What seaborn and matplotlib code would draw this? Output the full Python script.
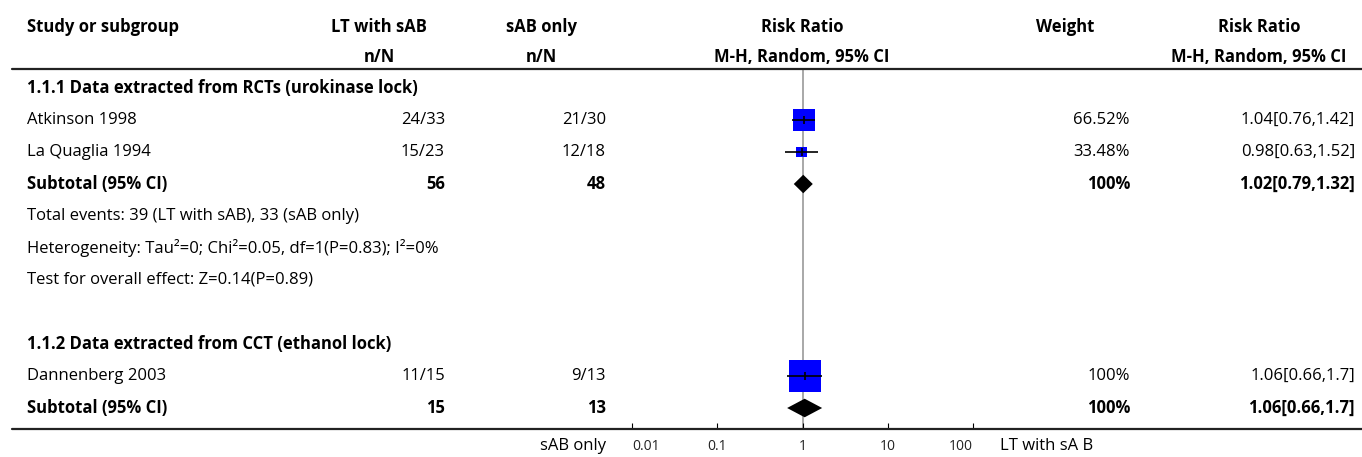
import numpy as np
import pandas as pd
import seaborn as sns
from matplotlib import pyplot as plt
from matplotlib.lines import Line2D
from matplotlib.transforms import blended_transform_factory

# Study level data
studies = ["Atkinson 1998", "La Quaglia 1994", "Dannenberg 2003"]
lt_events = [24, 15, 11]
lt_total = [33, 23, 15]
sab_events = [21, 12, 9]
sab_total = [30, 18, 13]
rr = [1.04, 0.98, 1.06]
rr_lo = [0.76, 0.63, 0.66]
rr_hi = [1.42, 1.52, 1.7]
weights = [66.52, 33.48, 100.0]
rr_text = ["1.04[0.76,1.42]", "0.98[0.63,1.52]", "1.06[0.66,1.7]"]

# Subtotals
sub_lt_total = [56, 15]
sub_sab_total = [48, 13]
sub_rr = [1.02, 1.06]
sub_lo = [0.79, 0.66]
sub_hi = [1.32, 1.7]
sub_weight = ["100%", "100%"]
sub_text = ["1.02[0.79,1.32]", "1.06[0.66,1.7]"]

groups = ["1.1.1 Data extracted from RCTs (urokinase lock)",
          "1.1.2 Data extracted from CCT (ethanol lock)"]
notes = ["Total events: 39 (LT with sAB), 33 (sAB only)",
         "Heterogeneity: Tau\u00b2=0; Chi\u00b2=0.05, df=1(P=0.83); I\u00b2=0%",
         "Test for overall effect: Z=0.14(P=0.89)"]
ticks = [0.01, 0.1, 1, 10, 100]
tick_labels = ["0.01", "0.1", "1", "10", "100"]

# row layout (row units)
study_rows = [1, 2, 9]
group_rows = [0, 8]
sub_rows = [3, 10]
note_rows = [4, 5, 6]

W, H = 1362, 457
sns.set_theme(style="white")
plt.rcParams["font.family"] = ["Open Sans", "DejaVu Sans"]
FS = 12

fig = plt.figure(figsize=(W / 100, H / 100), dpi=100)


def fx(px):
    return px / W


ax = fig.add_axes([fx(622), (H - 429) / H, fx(983 - 622), (429 - 69) / H])
ax.set_xscale("log")
lo_log, hi_log = -2 - 10 / 85.25, 2 + 10 / 85.25
ax.set_xlim(10 ** lo_log, 10 ** hi_log)
ax.set_ylim((429 - 88) / 32, (69 - 88) / 32)
ax.set_facecolor("none")
for s in ["top", "left", "right", "bottom"]:
    ax.spines[s].set_visible(False)
ax.set_yticks([])
ax.set_xticks(ticks)
ax.set_xticklabels(tick_labels)
ax.minorticks_off()
ax.tick_params(axis="x", direction="in", length=4, width=0.8, color="black",
               labelsize=10, pad=7, labelcolor="#222222", bottom=True)
xlabels = ax.get_xticklabels()
xlabels[0].set_horizontalalignment("left")
xlabels[-1].set_horizontalalignment("right")

ax.axvline(1, color="#a8a8a8", lw=1.4, zorder=0)

df = pd.DataFrame({"rr": rr, "row": study_rows, "w": weights})
side_pt = 32 * df["w"] / 100 * 0.72
sns.scatterplot(data=df, x="rr", y="row", marker="s", s=side_pt ** 2,
                color="#0000ff", linewidth=0, legend=False, ax=ax, zorder=2)
ax.hlines(study_rows, rr_lo, rr_hi, color="black", lw=1.2, zorder=3)
ax.vlines(rr, np.array(study_rows) - 0.14, np.array(study_rows) + 0.14,
          color="black", lw=1.2, zorder=3)
for r, m, l, h in zip(sub_rows, sub_rr, sub_lo, sub_hi):
    ax.fill([l, m, h, m], [r, r - 0.29, r, r + 0.29], color="black", lw=0, zorder=3)
ax.set_xlabel("")
ax.set_ylabel("")

# horizontal rules across the full width
for ypx in [69, 429]:
    fig.add_artist(Line2D([fx(12), 1], [(H - ypx) / H] * 2, color="#222222", lw=1.6))

tr = blended_transform_factory(fig.transFigure, ax.transData)
col_study, col_lt, col_sab, col_w, col_rr = 27, 445, 606, 1130, 1355
hdr1, hdr2 = (27 - 88) / 32, (57 - 88) / 32


def txt(px, row, s, ha="left", bold=False, size=FS):
    ax.text(fx(px), row, s, transform=tr, ha=ha, va="center", fontsize=size,
            fontweight="bold" if bold else "normal", color="black", clip_on=False)


txt(col_study, hdr1, "Study or subgroup", bold=True)
txt(379, hdr1, "LT with sAB", ha="center", bold=True)
txt(379, hdr2, "n/N", ha="center", bold=True)
txt(541, hdr1, "sAB only", ha="center", bold=True)
txt(541, hdr2, "n/N", ha="center", bold=True)
txt(802, hdr1, "Risk Ratio", ha="center", bold=True)
txt(802, hdr2, "M-H, Random, 95% CI", ha="center", bold=True)
txt(1065, hdr1, "Weight", ha="center", bold=True)
txt(1259, hdr1, "Risk Ratio", ha="center", bold=True)
txt(1259, hdr2, "M-H, Random, 95% CI", ha="center", bold=True)

for r, g in zip(group_rows, groups):
    txt(col_study, r, g, bold=True)
for i, r in enumerate(study_rows):
    txt(col_study, r, studies[i])
    txt(col_lt, r, f"{lt_events[i]}/{lt_total[i]}", ha="right")
    txt(col_sab, r, f"{sab_events[i]}/{sab_total[i]}", ha="right")
    txt(col_w, r, f"{weights[i]:g}%", ha="right")
    txt(col_rr, r, rr_text[i], ha="right")
for i, r in enumerate(sub_rows):
    txt(col_study, r, "Subtotal (95% CI)", bold=True)
    txt(col_lt, r, str(sub_lt_total[i]), ha="right", bold=True)
    txt(col_sab, r, str(sub_sab_total[i]), ha="right", bold=True)
    txt(col_w, r, sub_weight[i], ha="right", bold=True)
    txt(col_rr, r, sub_text[i], ha="right", bold=True)
for r, n in zip(note_rows, notes):
    txt(col_study, r, n)

bot = (446 - 88) / 32
txt(606, bot, "sAB only", ha="right")
txt(1000, bot, "LT with sA B")

fig.savefig("out.png", dpi=100)
